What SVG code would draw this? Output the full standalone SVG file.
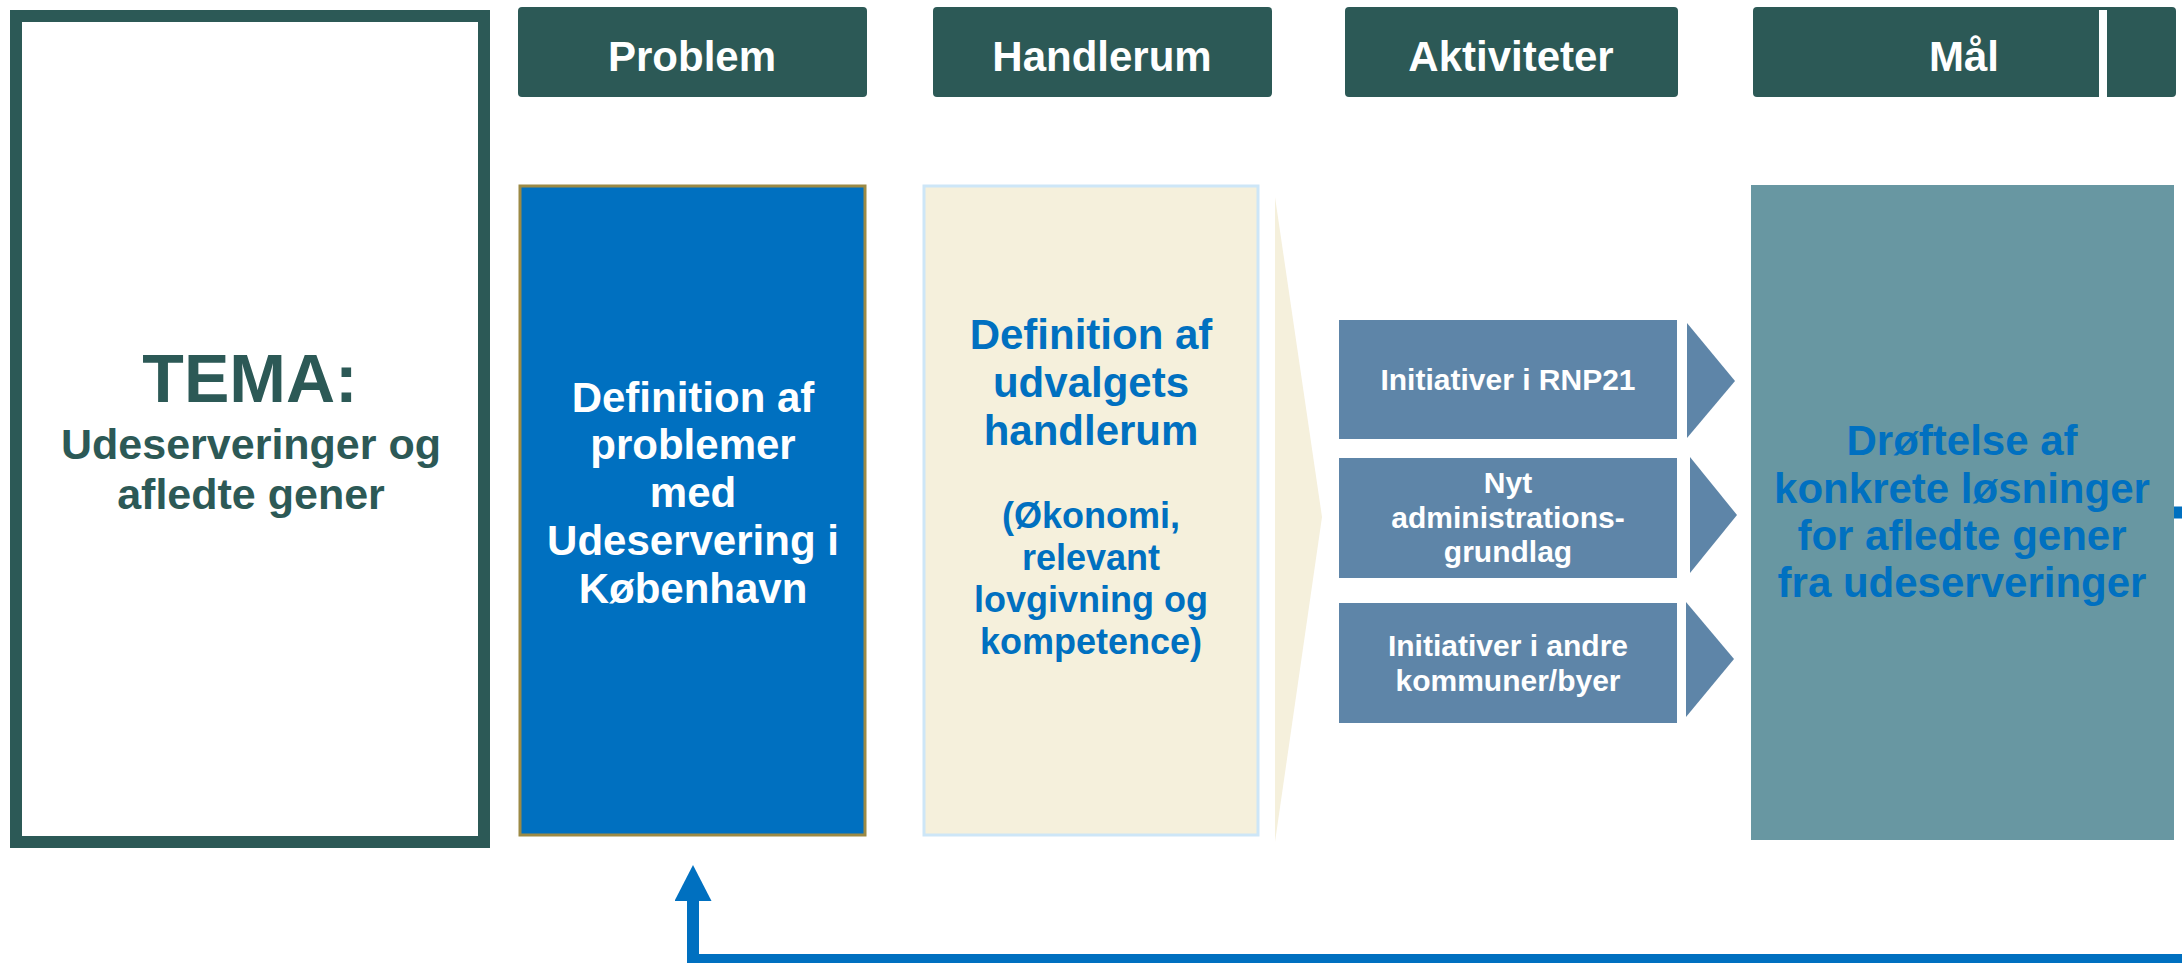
<svg xmlns="http://www.w3.org/2000/svg" width="2182" height="963" viewBox="0 0 2182 963">
<style>
text{font-family:"Liberation Sans",Arial,sans-serif;font-weight:700;text-anchor:middle}
.hdr{fill:#2C5956}
.hdrt{fill:#FFFFFF;font-size:42px}
.wt{fill:#FFFFFF;font-size:42px}
.bt{fill:#0070C0;font-size:42px}
.bts{fill:#0070C0;font-size:36px}
.act{fill:#5E85A8}
.actt{fill:#FFFFFF;font-size:30px}
.tema{fill:#2C5956}
</style>
<defs>
<marker id="arr" markerUnits="userSpaceOnUse" markerWidth="36" markerHeight="37" viewBox="0 0 36 37" refX="11" refY="18.5" orient="auto">
<path d="M0,0 L36,18.5 L0,37 z" fill="#0070C0"/>
</marker>
</defs>
<rect width="2182" height="963" fill="#FFFFFF"/>

<g id="tema">
<rect x="16" y="16" width="468" height="826" fill="#FFFFFF" stroke="#2C5956" stroke-width="12"/>
<text class="tema" x="250" y="402" font-size="68">TEMA:</text>
<text class="tema" x="251" y="459" font-size="43">Udeserveringer og</text>
<text class="tema" x="251" y="509" font-size="43">afledte gener</text>
</g>

<g id="header-problem">
<rect class="hdr" x="518" y="7" width="349" height="90" rx="4"/>
<text class="hdrt" x="692" y="71">Problem</text>
</g>
<g id="header-handlerum">
<rect class="hdr" x="933" y="7" width="339" height="90" rx="4"/>
<text class="hdrt" x="1102" y="71">Handlerum</text>
</g>
<g id="header-aktiviteter">
<rect class="hdr" x="1345" y="7" width="333" height="90" rx="4"/>
<text class="hdrt" x="1511" y="71">Aktiviteter</text>
</g>
<g id="header-maal">
<rect class="hdr" x="1753" y="7" width="423" height="90" rx="4"/>
<rect x="2099" y="10" width="8" height="87" fill="#FFFFFF"/>
<text class="hdrt" x="1964" y="71">Mål</text>
</g>

<g id="problem">
<rect x="520" y="186" width="345" height="649" fill="#0070C0" stroke="#9C8A45" stroke-width="3"/>
<text class="wt" x="693" y="412">Definition af</text>
<text class="wt" x="693" y="459">problemer</text>
<text class="wt" x="693" y="507">med</text>
<text class="wt" x="693" y="555">Udeservering i</text>
<text class="wt" x="693" y="603">København</text>
</g>

<g id="handlerum">
<rect x="924" y="186" width="334" height="649" fill="#F5F0DC" stroke="#CDE6F7" stroke-width="3"/>
<text class="bt" x="1091" y="349">Definition af</text>
<text class="bt" x="1091" y="397">udvalgets</text>
<text class="bt" x="1091" y="445">handlerum</text>
<text class="bts" x="1091" y="528">(Økonomi,</text>
<text class="bts" x="1091" y="570">relevant</text>
<text class="bts" x="1091" y="612">lovgivning og</text>
<text class="bts" x="1091" y="654">kompetence)</text>
</g>

<g id="wedge">
<polygon points="1275,197 1322,517 1275,842" fill="#F5F0DC"/>
</g>

<g id="aktivitet-1">
<rect class="act" x="1339" y="320" width="338" height="119"/>
<polygon class="act" points="1687,323 1735,381 1687,438"/>
<text class="actt" x="1508" y="390">Initiativer i RNP21</text>
</g>
<g id="aktivitet-2">
<rect class="act" x="1339" y="458" width="338" height="120"/>
<polygon class="act" points="1690,457 1737,515 1690,573"/>
<text class="actt" x="1508" y="493">Nyt</text>
<text class="actt" x="1508" y="528">administrations-</text>
<text class="actt" x="1508" y="562">grundlag</text>
</g>
<g id="aktivitet-3">
<rect class="act" x="1339" y="603" width="338" height="120"/>
<polygon class="act" points="1686,602 1734,659 1686,717"/>
<text class="actt" x="1508" y="656">Initiativer i andre</text>
<text class="actt" x="1508" y="691">kommuner/byer</text>
</g>

<g id="maal">
<rect x="1751" y="185" width="423" height="655" fill="#6897A2"/>
<text class="bt" x="1962" y="455">Drøftelse af</text>
<text class="bt" x="1962" y="503">konkrete løsninger</text>
<text class="bt" x="1962" y="550">for afledte gener</text>
<text class="bt" x="1962" y="597">fra udeserveringer</text>
</g>

<g id="connectors">
<path d="M2174,512.5 H2196 V960 H693 V890" fill="none" stroke="#0070C0" stroke-width="12" marker-end="url(#arr)"/>
</g>
</svg>
